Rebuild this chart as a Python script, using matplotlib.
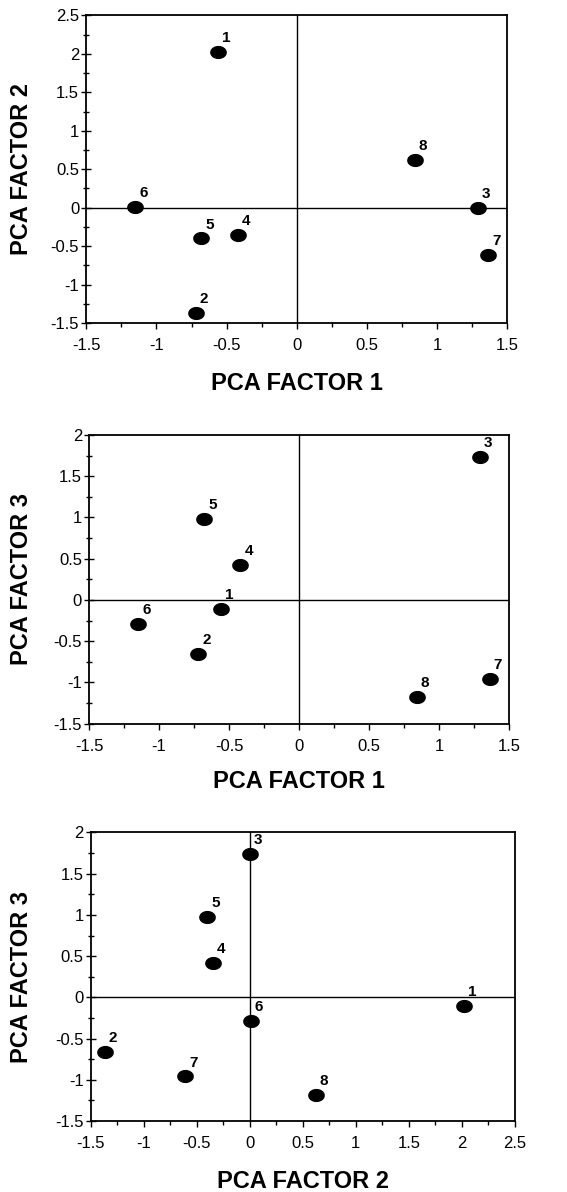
import matplotlib
matplotlib.use('Agg')
import matplotlib.pyplot as plt
import matplotlib.ticker as mticker
import numpy as np

# PCA scores for the 8 samples
samples = ['1', '2', '3', '4', '5', '6', '7', '8']
factor1 = [-0.56, -0.72, 1.29, -0.42, -0.68, -1.15, 1.36, 0.84]
factor2 = [2.02, -1.37, 0.00, -0.35, -0.40, 0.01, -0.61, 0.62]
factor3 = [-0.11, -0.66, 1.74, 0.42, 0.98, -0.29, -0.96, -1.18]

plt.rcParams['font.family'] = ['Liberation Sans', 'DejaVu Sans']

# ellipse marker, a bit wider than tall
t = np.linspace(0, 2 * np.pi, 60)
ell = np.column_stack([1.3 * np.cos(t), np.sin(t)])

fig = plt.figure(figsize=(5.67, 11.92), dpi=100)

panels = [
    # xdata, ydata, xlabel, ylabel, xlim, ylim, rect, ylabel x, xlabel y
    (factor1, factor2, 'PCA FACTOR 1', 'PCA FACTOR 2', (-1.5, 1.5), (-1.5, 2.5),
     [0.152, 0.729, 0.743, 0.258], -0.126, -0.16),
    (factor1, factor3, 'PCA FACTOR 1', 'PCA FACTOR 3', (-1.5, 1.5), (-1.5, 2.0),
     [0.157, 0.393, 0.741, 0.242], -0.133, -0.16),
    (factor2, factor3, 'PCA FACTOR 2', 'PCA FACTOR 3', (-1.5, 2.5), (-1.5, 2.0),
     [0.160, 0.0596, 0.748, 0.242], -0.137, -0.17),
]

for xs, ys, xl, yl, xlim, ylim, rect, ylx, xly in panels:
    ax = fig.add_axes(rect)
    ax.axhline(0, color='black', lw=1.0, zorder=1)
    ax.axvline(0, color='black', lw=1.0, zorder=1)
    ax.plot(xs, ys, linestyle='none', marker=ell, markersize=11,
            color='black', zorder=3, clip_on=False)
    for name, x, y in zip(samples, xs, ys):
        ax.annotate(name, (x, y), xytext=(3, 5), textcoords='offset points',
                    ha='left', va='bottom', fontsize=11, fontweight='bold')
    ax.set_xlim(*xlim)
    ax.set_ylim(*ylim)
    ax.xaxis.set_major_locator(mticker.MultipleLocator(0.5))
    ax.xaxis.set_minor_locator(mticker.MultipleLocator(0.25))
    ax.yaxis.set_major_locator(mticker.MultipleLocator(0.5))
    ax.yaxis.set_minor_locator(mticker.MultipleLocator(0.25))
    ax.xaxis.set_major_formatter(mticker.FormatStrFormatter('%g'))
    ax.yaxis.set_major_formatter(mticker.FormatStrFormatter('%g'))
    ax.tick_params(axis='x', which='major', direction='out', length=4, width=1, labelsize=12, pad=7)
    ax.tick_params(axis='x', which='minor', direction='out', length=3, width=1)
    ax.tick_params(axis='y', which='major', direction='inout', length=7, width=1, labelsize=12, pad=1.5)
    ax.tick_params(axis='y', which='minor', direction='inout', length=4, width=1)
    for s in ax.spines.values():
        s.set_linewidth(1.3)
    ax.set_xlabel(xl, fontsize=17, fontweight='bold')
    ax.set_ylabel(yl, fontsize=17, fontweight='bold')
    ax.yaxis.set_label_coords(ylx, 0.5)
    ax.xaxis.set_label_coords(0.5, xly)

fig.savefig('out.png', dpi=100)
